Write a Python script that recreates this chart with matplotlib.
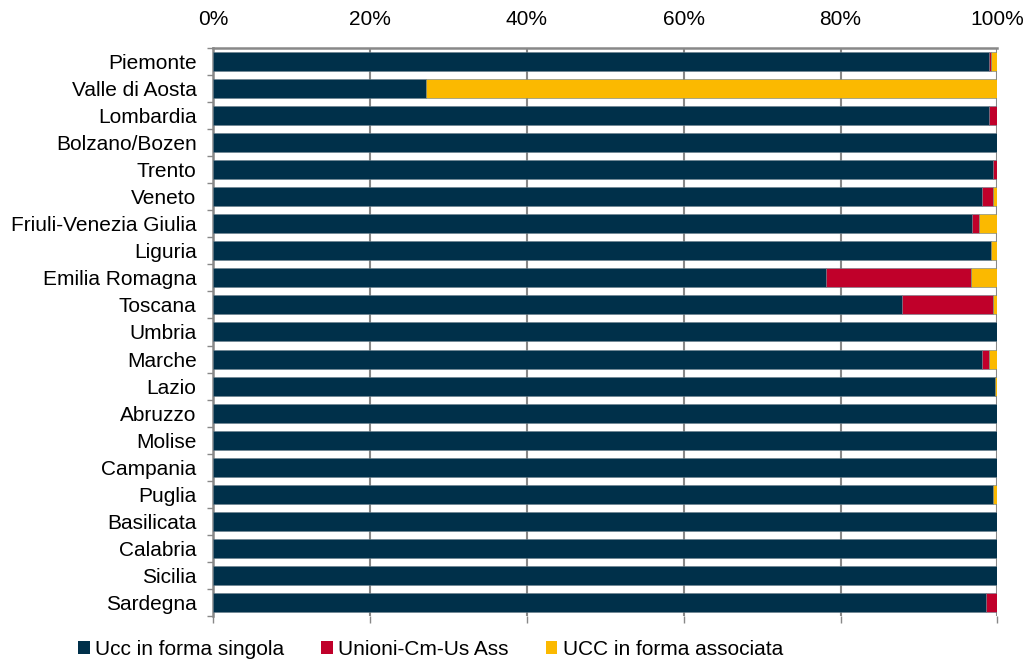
import numpy as np
import matplotlib
matplotlib.use('Agg')
import matplotlib.pyplot as plt
from matplotlib.patches import Patch

regions = ['Piemonte', 'Valle di Aosta', 'Lombardia', 'Bolzano/Bozen', 'Trento',
           'Veneto', 'Friuli-Venezia Giulia', 'Liguria', 'Emilia Romagna', 'Toscana',
           'Umbria', 'Marche', 'Lazio', 'Abruzzo', 'Molise', 'Campania', 'Puglia',
           'Basilicata', 'Calabria', 'Sicilia', 'Sardegna']

# percent shares per region
singola = [99.0, 27.2, 99.0, 100.0, 99.5, 98.1, 96.8, 99.2, 78.2, 87.9,
           100.0, 98.1, 99.7, 100.0, 100.0, 100.0, 99.5, 100.0, 100.0, 100.0, 98.6]
unioni = [0.2, 0.0, 0.9, 0.0, 0.5, 1.4, 0.9, 0.0, 18.4, 11.6,
          0.0, 0.9, 0.0, 0.0, 0.0, 0.0, 0.0, 0.0, 0.0, 0.0, 1.4]
associata = [0.8, 72.8, 0.1, 0.0, 0.0, 0.5, 2.3, 0.8, 3.4, 0.5,
             0.0, 1.0, 0.3, 0.0, 0.0, 0.0, 0.5, 0.0, 0.0, 0.0, 0.0]

series_names = ['Ucc in forma singola', 'Unioni-Cm-Us Ass', 'UCC in forma associata']
colors = ['#00304a', '#c0002a', '#fbb900']
xticks = [0, 20, 40, 60, 80, 100]

plt.rcParams['font.family'] = ['Liberation Sans', 'DejaVu Sans']

fig = plt.figure(figsize=(10.25, 6.6), dpi=100)
ax = fig.add_axes([0.208, 0.066, 0.765, 0.862])

y = np.arange(len(regions))
left = np.zeros(len(regions))
for vals, c in zip([singola, unioni, associata], colors):
    ax.barh(y, vals, left=left, height=0.7, color=c, edgecolor='#6a7f8c',
            linewidth=0.4, zorder=3)
    left += np.array(vals)

ax.set_ylim(len(regions) - 0.5, -0.5)
ax.set_xlim(0, 100)
ax.set_yticks(y)
ax.set_yticklabels(regions, fontsize=15)
ax.set_yticks(np.arange(len(regions) + 1) - 0.5, minor=True)
ax.tick_params(axis='y', which='major', length=0, pad=12)
ax.tick_params(axis='y', which='minor', length=4, color='#888888', width=1)

ax.set_xticks(xticks)
ax.set_xticklabels([f'{t}%' for t in xticks], fontsize=15)
ax.tick_params(axis='x', top=False, bottom=True, labeltop=True, labelbottom=False,
               length=5, color='#888888', width=1, pad=8)
ax.grid(axis='x', color='#888888', linewidth=1.5, zorder=0)

for s in ['bottom', 'right']:
    ax.spines[s].set_visible(False)
for s in ['left', 'top']:
    ax.spines[s].set_color('#888888')
    ax.spines[s].set_linewidth(1.8)

handles = [Patch(facecolor=c, edgecolor='none') for c in colors]
fig.legend(handles, series_names, loc='lower center', bbox_to_anchor=(0.42, -0.027),
           ncol=3, frameon=False, fontsize=15, handlelength=0.55, handleheight=0.55,
           handletextpad=0.25, columnspacing=1.8)

fig.savefig('out.png', dpi=100)
